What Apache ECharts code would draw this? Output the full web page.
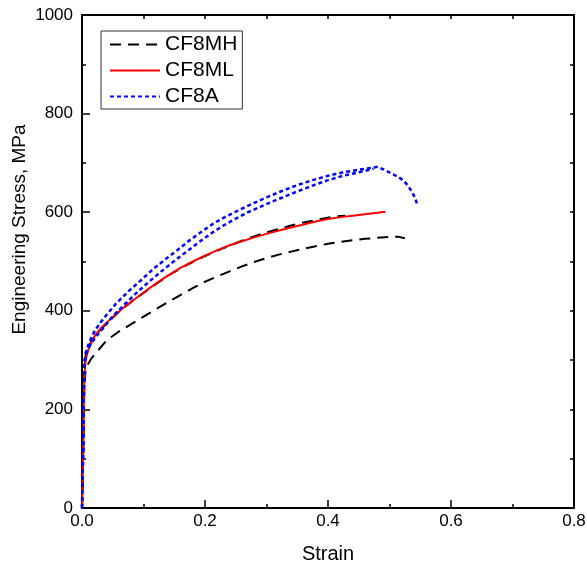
<!DOCTYPE html>
<html>
<head>
<meta charset="utf-8">
<script src="https://cdn.jsdelivr.net/npm/echarts@6/dist/echarts.min.js"></script>
<style>html,body{margin:0;padding:0;background:#fff;}#c{width:587px;height:572px;}</style>
</head>
<body>
<div id="c"></div>
<script>
// ---- data (strain, engineering stress MPa) ----
const seriesNames = ['CF8MH', 'CF8ML', 'CF8A'];
const xTicks = [0, 0.2, 0.4, 0.6, 0.8];
const yTicks = [0, 200, 400, 600, 800, 1000];

const cf8mhA = [[0,0],[0.002,120],[0.003,230],[0.004,285],[0.006,310],[0.010,325],[0.016,340],[0.025,355],[0.040,374],[0.060,398],[0.080,418],[0.100,436],[0.120,454],[0.140,471],[0.160,486],[0.180,499],[0.200,511],[0.220,522],[0.240,532],[0.260,542],[0.280,551],[0.300,559],[0.320,566],[0.340,573],[0.360,579],[0.380,584],[0.400,589],[0.415,592],[0.428,593]];
const cf8mhB = [[0,0],[0.002,110],[0.003,200],[0.004,255],[0.006,280],[0.010,292],[0.015,303],[0.025,318],[0.040,340],[0.060,358],[0.080,373],[0.100,388],[0.120,403],[0.140,418],[0.160,432],[0.180,446],[0.200,459],[0.220,470],[0.240,480],[0.260,490],[0.280,499],[0.300,507],[0.320,514],[0.340,520],[0.360,526],[0.380,531],[0.400,536],[0.420,540],[0.440,543],[0.460,546],[0.480,548],[0.500,550],[0.515,550],[0.525,547]];
const cf8ml = [[0,0],[0.002,120],[0.003,220],[0.004,270],[0.006,300],[0.010,320],[0.015,335],[0.021,350],[0.030,364],[0.040,376],[0.054,392],[0.070,409],[0.085,423],[0.100,437],[0.120,455],[0.140,472],[0.160,487],[0.180,500],[0.200,512],[0.220,523],[0.240,533],[0.260,541],[0.280,549],[0.300,556],[0.320,563],[0.340,569],[0.360,575],[0.380,581],[0.400,586],[0.420,590],[0.440,593],[0.460,596],[0.480,599],[0.493,601]];
const cf8aA = [[0,0],[0.002,120],[0.003,230],[0.004,290],[0.006,315],[0.010,330],[0.015,345],[0.021,360],[0.030,376],[0.040,392],[0.055,414],[0.075,439],[0.095,461],[0.115,484],[0.135,504],[0.155,523],[0.175,543],[0.195,561],[0.215,578],[0.235,592],[0.255,604],[0.275,616],[0.300,630],[0.325,643],[0.350,655],[0.375,665],[0.400,674],[0.425,681],[0.450,686],[0.470,690],[0.481,692],[0.490,687],[0.501,680],[0.512,673],[0.522,665],[0.530,654],[0.537,640],[0.542,628],[0.545,615]];
const cf8aB = [[0,0],[0.002,120],[0.003,225],[0.004,285],[0.006,310],[0.010,323],[0.016,336],[0.025,351],[0.035,366],[0.050,389],[0.070,414],[0.090,438],[0.110,460],[0.130,481],[0.150,501],[0.170,520],[0.190,539],[0.210,557],[0.230,573],[0.250,587],[0.270,600],[0.290,611],[0.310,622],[0.330,632],[0.350,642],[0.375,654],[0.400,665],[0.425,674],[0.450,681],[0.474,688]];

const FONT = 'Liberation Sans, Arial, sans-serif';
const black = '#000000', red = '#ff0000', blue = '#0000ff';

function lineSeries(name, data, color, width, dash, z) {
  return {
    type: 'line', name: name, data: data, showSymbol: false, symbol: 'none',
    smooth: false, z: z, animation: false,
    lineStyle: { color: color, width: width, type: dash },
    itemStyle: { color: color }
  };
}

const chart = echarts.init(document.getElementById('c'), null, { renderer: 'canvas' });
chart.setOption({
  animation: false,
  backgroundColor: '#ffffff',
  grid: { left: 82, right: 13, top: 15, bottom: 64, containLabel: false, outerBoundsMode: 'none' },
  legend: {
    data: seriesNames,
    orient: 'vertical', left: 101, top: 31,
    itemWidth: 50, itemHeight: 14, itemGap: 5,
    padding: [3, 5, 2, 8],
    borderColor: '#333', borderWidth: 1, backgroundColor: '#fff',
    itemStyle: { color: 'transparent', borderWidth: 0, opacity: 0 },
    textStyle: { fontFamily: FONT, fontSize: 21, color: '#000', lineHeight: 21 },
    selectedMode: false
  },
  xAxis: [{
    type: 'value', min: 0, max: 0.8, interval: 0.2, position: 'bottom',
    name: 'Strain', nameLocation: 'middle', nameGap: 36, nameMoveOverlap: false,
    nameTextStyle: { fontFamily: FONT, fontSize: 20, color: '#000' },
    axisLine: { show: true, onZero: false, lineStyle: { color: '#000', width: 2 } },
    axisTick: { show: true, inside: true, length: 8, lineStyle: { color: '#000', width: 1.5 } },
    minorTick: { show: true, splitNumber: 2, length: 4, lineStyle: { color: '#000', width: 1.5 } },
    axisLabel: { fontFamily: FONT, fontSize: 17, color: '#000', margin: 5, formatter: v => v.toFixed(1) },
    splitLine: { show: false }
  }, {
    type: 'value', min: 0, max: 0.8, interval: 0.1, position: 'top',
    axisLine: { show: true, onZero: false, lineStyle: { color: '#000', width: 2 } },
    axisTick: { show: true, inside: true, length: 4, lineStyle: { color: '#000', width: 1.5 } },
    axisLabel: { show: false }, splitLine: { show: false }
  }],
  yAxis: [{
    type: 'value', min: 0, max: 1000, interval: 200, position: 'left',
    name: 'Engineering Stress, MPa', nameLocation: 'middle', nameGap: 53, nameMoveOverlap: false,
    nameTextStyle: { fontFamily: FONT, fontSize: 19, color: '#000', padding: [0, 0, 0, 64] },
    axisLine: { show: true, onZero: false, lineStyle: { color: '#000', width: 2 } },
    axisTick: { show: true, inside: true, length: 8, lineStyle: { color: '#000', width: 1.5 } },
    minorTick: { show: true, splitNumber: 2, length: 4, lineStyle: { color: '#000', width: 1.5 } },
    axisLabel: { fontFamily: FONT, fontSize: 17, color: '#000', margin: 9, formatter: v => String(v) },
    splitLine: { show: false }
  }, {
    type: 'value', min: 0, max: 1000, interval: 100, position: 'right',
    axisLine: { show: true, onZero: false, lineStyle: { color: '#000', width: 2 } },
    axisTick: { show: true, inside: true, length: 4, lineStyle: { color: '#000', width: 1.5 } },
    axisLabel: { show: false }, splitLine: { show: false }
  }],
  series: [
    lineSeries('CF8MH', cf8mhA, black, 2, [11, 7], 2),
    lineSeries('CF8MH', cf8mhB, black, 2, [11, 7], 2),
    lineSeries('CF8ML', cf8ml, red, 2, 'solid', 3),
    lineSeries('CF8A', cf8aA, blue, 2.5, [4, 3], 4),
    lineSeries('CF8A', cf8aB, blue, 2.5, [4, 3], 4)
  ]
});
</script>
</body>
</html>
